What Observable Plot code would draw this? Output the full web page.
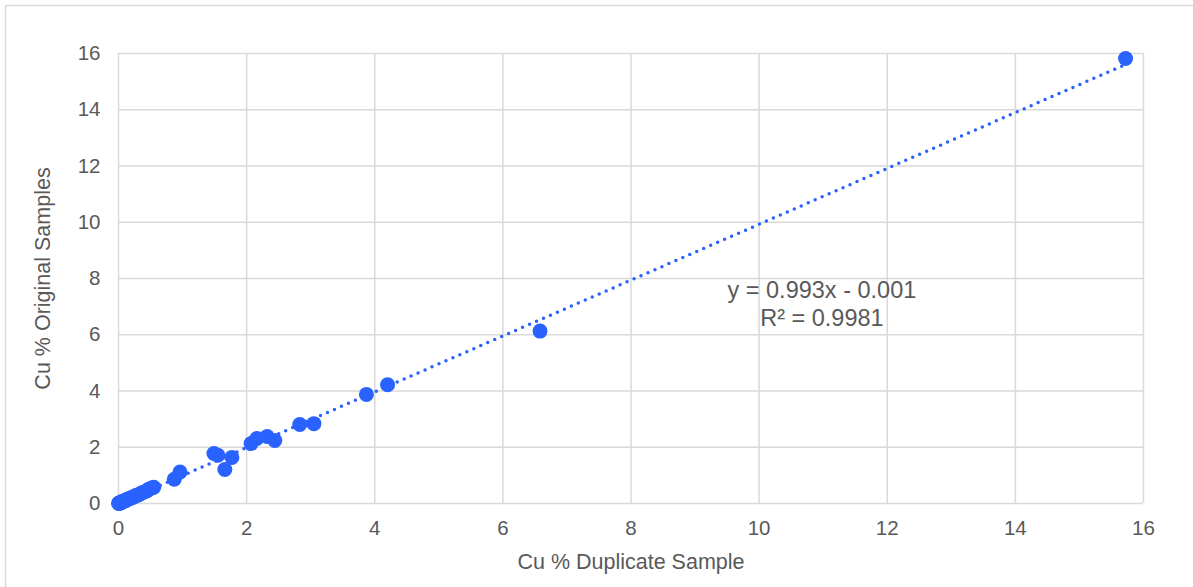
<!DOCTYPE html>
<html>
<head>
<meta charset="utf-8">
<script src="https://cdn.jsdelivr.net/npm/d3@7"></script>
<script src="https://cdn.jsdelivr.net/npm/@observablehq/plot@0.6"></script>
<style>
  html, body { margin: 0; padding: 0; background: #fff; overflow: hidden; }
  #chart { width: 1193px; height: 587px; }
</style>
</head>
<body>
<div id="chart"></div>
<script>
// Cu assays: duplicate sample (x) vs original sample (y), in %
const duplicateCu = [
  0.00, 0.01, 0.02, 0.03, 0.04, 0.05, 0.06, 0.08, 0.09, 0.11, 0.12, 0.14, 0.16,
  0.18, 0.20, 0.23, 0.25, 0.28, 0.31, 0.34, 0.37, 0.40, 0.44, 0.48, 0.52, 0.55,
  0.87, 0.96, 1.49, 1.55, 1.77, 1.66, 2.07, 2.16, 2.32, 2.44, 2.83, 3.05,
  3.87, 4.20, 6.58, 15.72
];
const originalCu = [
  0.01, 0.00, 0.03, 0.02, 0.05, 0.04, 0.07, 0.08, 0.10, 0.10, 0.13, 0.14, 0.17,
  0.18, 0.21, 0.22, 0.26, 0.29, 0.30, 0.35, 0.38, 0.41, 0.45, 0.52, 0.55, 0.58,
  0.86, 1.12, 1.78, 1.72, 1.64, 1.21, 2.13, 2.31, 2.38, 2.24, 2.81, 2.84,
  3.88, 4.22, 6.13, 15.82
];

// Linear trendline fitted to the samples
const trendSlope = 0.993;
const trendIntercept = -0.001;
const rSquared = 0.9981;

const xTicks = [0, 2, 4, 6, 8, 10, 12, 14, 16];
const yTicks = [0, 2, 4, 6, 8, 10, 12, 14, 16];

const samples = duplicateCu.map((x, i) => ({x, y: originalCu[i]}));
const [xMin, xMax] = d3.extent(duplicateCu);
const trend = [xMin, xMax].map(x => ({x, y: trendSlope * x + trendIntercept}));
const eqLabel = `y = ${trendSlope}x ${trendIntercept < 0 ? "-" : "+"} ${Math.abs(trendIntercept)}\nR² = ${rSquared}`;

const blue = "#2962ff";
const grey = "#595959";
const gridColor = "#d9d9d9";

const chart = Plot.plot({
  width: 1193,
  height: 587,
  marginLeft: 118,
  marginRight: 50,
  marginTop: 53,
  marginBottom: 84,
  style: {fontFamily: "'Liberation Sans', Arial, sans-serif", fontSize: "20px", color: grey, background: "#fff"},
  x: {domain: [0, 16]},
  y: {domain: [0, 16]},
  marks: [
    Plot.gridX(xTicks, {stroke: gridColor, strokeOpacity: 1, strokeWidth: 1.5}),
    Plot.gridY(yTicks, {stroke: gridColor, strokeOpacity: 1, strokeWidth: 1.5}),
    Plot.axisX(xTicks, {
      tickSize: 0, tickPadding: 17, fontSize: 20.5, fill: grey,
      label: null
    }),
    Plot.axisX({
      ticks: [], tickSize: 0, fontSize: 21.5, fill: grey,
      label: "Cu % Duplicate Sample", labelAnchor: "center", labelArrow: "none", labelOffset: 65
    }),
    Plot.axisY(yTicks, {
      tickSize: 0, tickPadding: 18, fontSize: 20.5, fill: grey,
      label: null
    }),
    Plot.axisY({
      ticks: [], tickSize: 0, fontSize: 21.5, fill: grey,
      label: "Cu % Original Samples", labelAnchor: "center", labelArrow: "none", labelOffset: 84
    }),
    Plot.dot(samples, {x: "x", y: "y", r: 7.5, fill: blue, stroke: "none"}),
    Plot.line(trend, {
      x: "x", y: "y", stroke: blue, strokeWidth: 3.5,
      strokeDasharray: "0 7.6", strokeLinecap: "round"
    }),
    Plot.text([eqLabel], {
      x: 10.98, y: 7.12, text: d => d, fontSize: 23.5, fill: grey,
      textAnchor: "middle", lineAnchor: "middle", lineHeight: 1.2
    })
  ]
});

// light outer border of the chart area
d3.select(chart).append("rect")
  .attr("x", 5.5).attr("y", 5.5)
  .attr("width", 1400).attr("height", 1000)
  .attr("fill", "none").attr("stroke", gridColor).attr("stroke-width", 1.5);

document.getElementById("chart").appendChild(chart);
</script>
</body>
</html>
